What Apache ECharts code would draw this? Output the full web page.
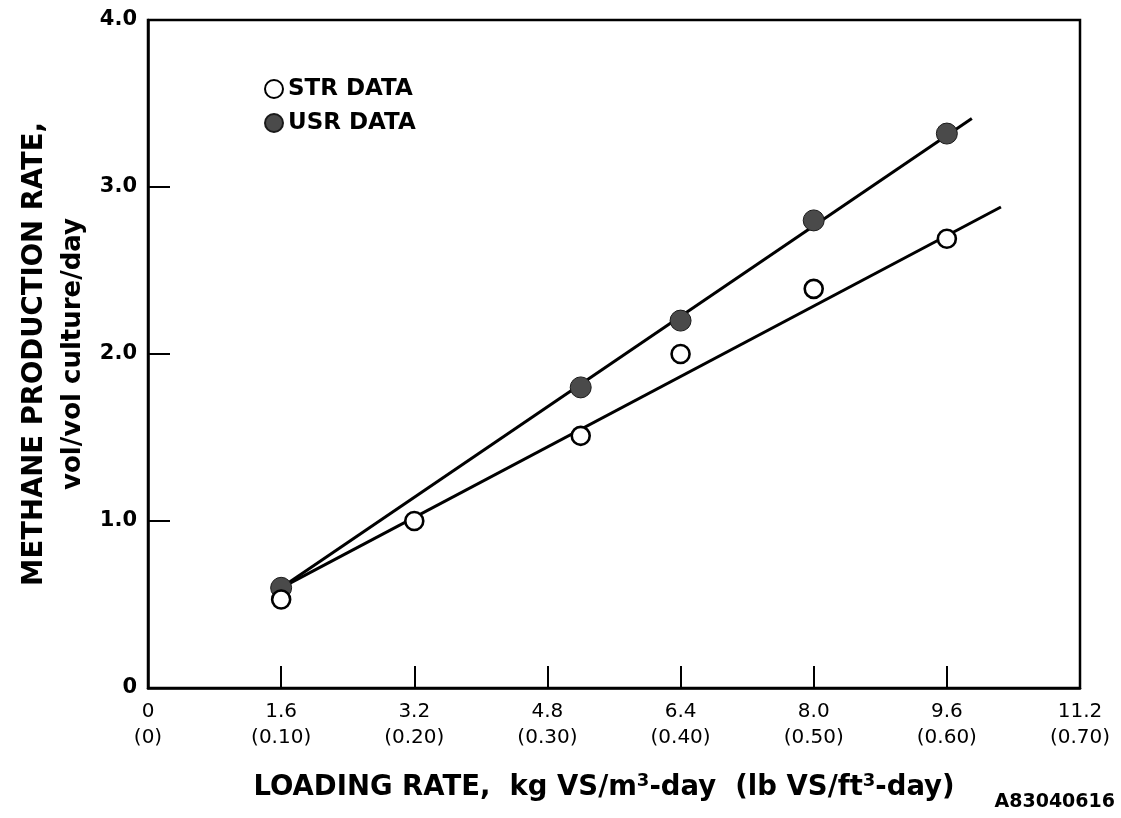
<!DOCTYPE html>
<html>
<head>
<meta charset="utf-8">
<title>Methane production rate vs loading rate</title>
<script src="https://cdn.jsdelivr.net/npm/echarts@6/dist/echarts.min.js"></script>
<style>
  html, body { margin: 0; padding: 0; background: #fff; }
  #chart { width: 1121px; height: 818px; }
</style>
</head>
<body>
<div id="chart"></div>
<script>
// Loading rate in kg VS/m3-day, methane rate in vol/vol culture/day
const strData = [[1.6, 0.53], [3.2, 1.0], [5.2, 1.51], [6.4, 2.0], [8.0, 2.39], [9.6, 2.69]];
const usrData = [[1.6, 0.6], [5.2, 1.8], [6.4, 2.2], [8.0, 2.8], [9.6, 3.32]];

// Fitted straight lines through each data set
const strFit = [[1.6, 0.6], [10.25, 2.88]];
const usrFit = [[1.6, 0.6], [9.9, 3.41]];

// Tick labels: metric units with English units below
const xTickKg = ['0', '1.6', '3.2', '4.8', '6.4', '8.0', '9.6', '11.2'];
const xTickLb = ['(0)', '(0.10)', '(0.20)', '(0.30)', '(0.40)', '(0.50)', '(0.60)', '(0.70)'];
const yTicks = ['0', '1.0', '2.0', '3.0', '4.0'];

const FONT = 'DejaVu Sans';

const chart = echarts.init(document.getElementById('chart'), null, { renderer: 'canvas' });

chart.setOption({
  backgroundColor: '#ffffff',
  animation: false,
  textStyle: { fontFamily: FONT, color: '#000' },
  grid: {
    left: 148, right: 41, top: 20, bottom: 130,
    show: true, borderColor: '#000', borderWidth: 2.5, backgroundColor: 'transparent'
  },
  legend: {
    data: ['STR DATA', 'USR DATA'],
    orient: 'vertical',
    left: 259, top: 72,
    itemWidth: 18, itemHeight: 18, itemGap: 10,
    icon: 'circle',
    textStyle: { fontFamily: FONT, fontSize: 23, fontWeight: 'bold', color: '#000', lineHeight: 24 }
  },
  xAxis: {
    type: 'value',
    min: 0, max: 11.2, interval: 1.6,
    splitLine: { show: false },
    axisLine: { lineStyle: { color: '#000', width: 2.5 } },
    axisTick: { inside: true, length: 22, lineStyle: { color: '#000', width: 2 } },
    axisLabel: {
      margin: 11,
      fontFamily: FONT, fontSize: 20, color: '#000', lineHeight: 26,
      formatter: (v, i) => xTickKg[i] + '\n' + xTickLb[i]
    },
    name: '{t|LOADING RATE,  kg VS/m}{s|3}{t|-day  (lb VS/ft}{s|3}{t|-day)}',
    nameLocation: 'middle',
    nameGap: 84,
    nameTextStyle: {
      padding: [0, 20, 0, 0],
      rich: {
        t: { fontFamily: FONT, fontSize: 27.5, fontWeight: 'bold', color: '#000', lineHeight: 32 },
        s: { fontFamily: FONT, fontSize: 18, fontWeight: 'bold', color: '#000', lineHeight: 32, verticalAlign: 'top', padding: [0, 0, 14, 0] }
      }
    }
  },
  yAxis: {
    type: 'value',
    min: 0, max: 4, interval: 1,
    splitLine: { show: false },
    axisLine: { lineStyle: { color: '#000', width: 2.5 } },
    axisTick: { inside: true, length: 22, lineStyle: { color: '#000', width: 2 } },
    axisLabel: {
      margin: 11,
      fontFamily: FONT, fontSize: 21, color: '#000', fontWeight: 'bold',
      formatter: (v, i) => yTicks[i]
    },
    name: '{a|METHANE PRODUCTION RATE,}\n{b|vol/vol culture/day}',
    nameLocation: 'middle',
    nameGap: 58,
    nameTextStyle: {
      rich: {
        a: { fontFamily: FONT, fontSize: 27.5, fontWeight: 'bold', color: '#000', lineHeight: 42 },
        b: { fontFamily: FONT, fontSize: 26, fontWeight: 'bold', color: '#000', lineHeight: 34 }
      }
    }
  },
  series: [
    {
      name: 'USR fit', type: 'line', data: usrFit, showSymbol: false, symbol: 'none',
      lineStyle: { color: '#000', width: 3 }, z: 2, silent: true
    },
    {
      name: 'STR fit', type: 'line', data: strFit, showSymbol: false, symbol: 'none',
      lineStyle: { color: '#000', width: 3 }, z: 2, silent: true
    },
    {
      name: 'USR DATA', type: 'scatter', data: usrData,
      symbol: 'circle', symbolSize: 21,
      itemStyle: { color: '#4a4a4a', borderColor: '#1a1a1a', borderWidth: 1, opacity: 1 },
      z: 3
    },
    {
      name: 'STR DATA', type: 'scatter', data: strData,
      symbol: 'circle', symbolSize: 18,
      itemStyle: { color: '#ffffff', borderColor: '#000', borderWidth: 2.6, opacity: 1 },
      z: 4
    }
  ],
  graphic: [
    {
      type: 'text', right: 6, top: 793,
      style: { text: 'A83040616', font: 'bold 19px "DejaVu Sans"', fill: '#000' }
    }
  ]
});
</script>
</body>
</html>
